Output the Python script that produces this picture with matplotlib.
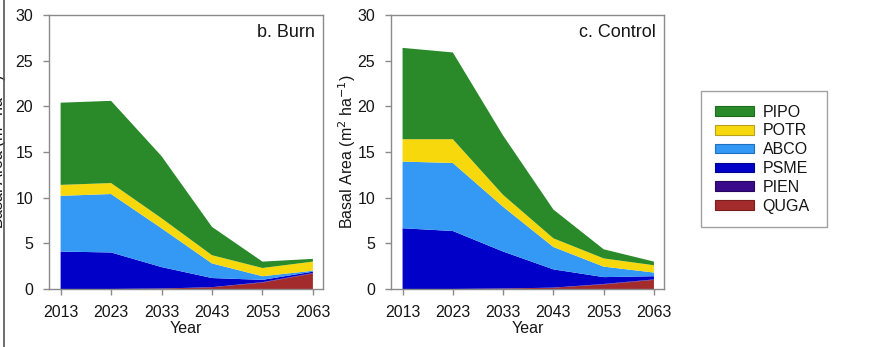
import matplotlib
matplotlib.use("Agg")
import matplotlib.pyplot as plt
from matplotlib.patches import Patch
from matplotlib.lines import Line2D

plt.rcParams['font.family'] = ['Liberation Sans', 'DejaVu Sans']

years = [2013, 2023, 2033, 2043, 2053, 2063]
species = ["QUGA", "PIEN", "PSME", "ABCO", "POTR", "PIPO"]
colors = {"PIPO": "#2a8a2a", "POTR": "#f7d80c", "ABCO": "#3399f5",
          "PSME": "#0000c8", "PIEN": "#3a0a8a", "QUGA": "#a32b2b"}
edges = {"PIPO": "#1f6a1f", "POTR": "#b8a020", "ABCO": "#2070c0",
         "PSME": "#00008a", "PIEN": "#250560", "QUGA": "#7a1d1d"}

# Basal area by species (m2/ha), burn scenario
burn_quga = [0.0, 0.0, 0.05, 0.2, 0.7, 1.7]
burn_pien = [0.0, 0.0, 0.0, 0.0, 0.05, 0.05]
burn_psme = [4.1, 4.0, 2.35, 1.0, 0.25, 0.15]
burn_abco = [6.1, 6.4, 4.25, 1.6, 0.4, 0.1]
burn_potr = [1.2, 1.2, 1.1, 0.9, 0.9, 1.0]
burn_pipo = [9.0, 9.0, 6.8, 3.1, 0.7, 0.3]

# Basal area by species (m2/ha), control scenario
ctrl_quga = [0.0, 0.0, 0.05, 0.15, 0.5, 1.0]
ctrl_pien = [0.0, 0.0, 0.0, 0.0, 0.05, 0.05]
ctrl_psme = [6.65, 6.35, 4.05, 2.0, 0.75, 0.35]
ctrl_abco = [7.3, 7.45, 4.9, 2.45, 1.15, 0.4]
ctrl_potr = [2.45, 2.6, 1.3, 0.95, 0.9, 0.8]
ctrl_pipo = [10.0, 9.5, 6.5, 3.15, 1.0, 0.4]

burn = [burn_quga, burn_pien, burn_psme, burn_abco, burn_potr, burn_pipo]
ctrl = [ctrl_quga, ctrl_pien, ctrl_psme, ctrl_abco, ctrl_potr, ctrl_pipo]

W, H = 893, 347
fig = plt.figure(figsize=(W / 100, H / 100), dpi=100)

ylabel = "Basal Area (m$^2$ ha$^{-1}$)"
spine_col = "#8a8a8a"
txt_col = "#161616"
fs = 11.5


def panel(left_px, width_px, data, title):
    ax = fig.add_axes([left_px / W, 1 - 289 / H, width_px / W, 274 / H])
    ax.stackplot(years, *data, colors=[colors[s] for s in species], linewidth=0)
    ax.set_xlim(2010.7, 2065.0)
    ax.set_ylim(0, 30)
    ax.set_xticks(years)
    ax.set_yticks([0, 5, 10, 15, 20, 25, 30])
    for sp in ax.spines.values():
        sp.set_color(spine_col)
        sp.set_linewidth(1.0)
    ax.tick_params(direction="out", length=4, width=1, color=spine_col,
                   labelsize=fs, labelcolor=txt_col, pad=7.5)
    ax.set_xlabel("Year", fontsize=fs, labelpad=0.5, color=txt_col)
    ax.text(0.972, 0.935, title, transform=ax.transAxes, ha="right",
            va="center", fontsize=13, color=txt_col)
    return ax


ax1 = panel(49, 274, burn, "b. Burn")
ax1.set_ylabel(ylabel, fontsize=fs, color=txt_col)
ax1.yaxis.set_label_coords(-0.145, 0.5)

ax2 = panel(391, 273, ctrl, "c. Control")
ax2.set_ylabel(ylabel, fontsize=fs, color=txt_col)
ax2.yaxis.set_label_coords(-0.12, 0.5)

# Legend, top species first
order = ["PIPO", "POTR", "ABCO", "PSME", "PIEN", "QUGA"]
handles = [Patch(facecolor=colors[s], edgecolor=edges[s], linewidth=0.8) for s in order]
leg = fig.legend(handles, order, loc="upper left",
                 bbox_to_anchor=(701 / W, 1 - 227 / H, 126 / W, 136 / H),
                 mode="expand", borderaxespad=0, fontsize=fs,
                 handlelength=2.45, handleheight=0.55, handletextpad=0.55,
                 labelspacing=0.24, borderpad=0.85, fancybox=False,
                 frameon=True)
leg.get_frame().set_edgecolor(spine_col)
leg.get_frame().set_linewidth(1.0)
for t in leg.get_texts():
    t.set_color(txt_col)

# Left border rule
fig.add_artist(Line2D([4 / W, 4 / W], [0, 1], transform=fig.transFigure,
                      color="#555555", linewidth=1.2))

fig.savefig("out.png", dpi=100, facecolor="white")
